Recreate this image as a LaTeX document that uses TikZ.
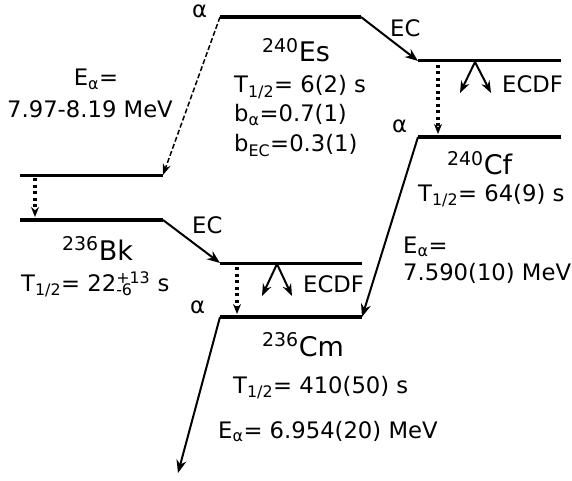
\documentclass[tikz,border=0pt]{standalone}
\usepackage{fontspec}
\setmainfont{DejaVu Sans}
\usetikzlibrary{arrows.meta}
\newcommand{\supsubx}[2]{\rlap{\textsubscript{#2}}\textsuperscript{#1}}
\begin{document}
\begin{tikzpicture}[x=1pt,y=-1pt,
  lbl/.style={inner sep=0pt,font=\fontsize{22.7}{27}\selectfont},
  elem/.style={inner sep=0pt,font=\fontsize{27}{32}\selectfont},
  levelthick/.style={line width=4.6pt},
  levelthin/.style={line width=3pt},
  decay/.style={line width=2pt,-{Stealth[length=13pt,width=10pt]}},
  decaydash/.style={line width=1.5pt,dash pattern=on 5pt off 2.5pt,-{Stealth[length=11pt,width=8pt]}},
  dotarrow/.style={line width=3.2pt,dash pattern=on 3pt off 3.5pt,-{Stealth[length=10pt,width=8pt]}},
  fission/.style={line width=2pt,-{Stealth[length=12pt,width=9pt]}}]
\useasboundingbox (0,0) rectangle (572,481);
% level coordinates
\coordinate (EsL) at (220,17);   \coordinate (EsR) at (361,17);
\coordinate (CfxL) at (418,61);  \coordinate (CfxR) at (561,61);
\coordinate (CfL) at (418,137);  \coordinate (CfR) at (561,137);
\coordinate (BkxL) at (20,175);  \coordinate (BkxR) at (163,175);
\coordinate (BkL) at (20,220);   \coordinate (BkR) at (163,220);
\coordinate (CmxL) at (220,263); \coordinate (CmxR) at (362,263);
\coordinate (CmL) at (220,317);  \coordinate (CmR) at (362,317);
\coordinate (CmEnd) at (178,473);
% dotted arrow ends
\coordinate (d1a) at (438,65);  \coordinate (d1b) at (438,134);
\coordinate (d2a) at (35,178);  \coordinate (d2b) at (35,217);
\coordinate (d3a) at (237,267); \coordinate (d3b) at (237,314);
% ECDF arrows
\coordinate (f1) at (475,62); \coordinate (f1a) at (460,93); \coordinate (f1b) at (491,93);
\coordinate (f2) at (277,264); \coordinate (f2a) at (262,296); \coordinate (f2b) at (292,296);
% levels
\draw[levelthick] (EsL) -- (EsR);
\draw[levelthin] (CfxL) -- (CfxR);
\draw[levelthick] (CfL) -- (CfR);
\draw[levelthin] (BkxL) -- (BkxR);
\draw[levelthick] (BkL) -- (BkR);
\draw[levelthin] (CmxL) -- (CmxR);
\draw[levelthick] (CmL) -- (CmR);
% decays
\draw[decay] (EsR) -- (CfxL);
\draw[decaydash] (EsL) -- (BkxR);
\draw[decay] (CfL) -- (CmR);
\draw[decay] (BkR) -- (CmxL);
\draw[decay] (CmL) -- (CmEnd);
\draw[dotarrow] (d1a) -- (d1b);
\draw[dotarrow] (d2a) -- (d2b);
\draw[dotarrow] (d3a) -- (d3b);
\draw[fission] (f1) -- (f1a);
\draw[fission] (f1) -- (f1b);
\draw[fission] (f2) -- (f2a);
\draw[fission] (f2) -- (f2b);
% labels
\node[lbl,anchor=base west] (aEs) at (192,18) {α};
\node[lbl,anchor=base west] (ecEs) at (390,37) {EC};
\node[elem,anchor=base west] (nEs) at (262,62) {\textsuperscript{240}Es};
\node[lbl,anchor=base west] (tEs) at (234,93) {T\textsubscript{1/2}= 6(2) s};
\node[lbl,anchor=base west] (baEs) at (234,122) {b\textsubscript{α}=0.7(1)};
\node[lbl,anchor=base west] (becEs) at (234,152) {b\textsubscript{EC}=0.3(1)};
\node[lbl,anchor=base] (eaL1) at (96,86) {E\textsubscript{α}=};
\node[lbl,anchor=base] (eaL2) at (90,118) {7.97-8.19 MeV};
\node[lbl,anchor=base west] (aCf) at (392,133) {α};
\node[lbl,anchor=base west] (ecdf1) at (502,93) {ECDF};
\node[elem,anchor=base west] (nCf) at (447,175) {\textsuperscript{240}Cf};
\node[lbl,anchor=base west] (tCf) at (418,201) {T\textsubscript{1/2}= 64(9) s};
\node[lbl,anchor=base west] (eaR1) at (403,253) {E\textsubscript{α}=};
\node[lbl,anchor=base west] (eaR2) at (403,280) {7.590(10) MeV};
\node[lbl,anchor=base west] (ecBk) at (192,233) {EC};
\node[elem,anchor=base west] (nBk) at (62,260) {\textsuperscript{236}Bk};
\node[lbl,anchor=base west] (tBk) at (21,291) {T\textsubscript{1/2}= 22\supsubx{+13}{-6} s};
\node[lbl,anchor=base west] (ecdf2) at (303,292) {ECDF};
\node[lbl,anchor=base west] (aCm) at (190,313) {α};
\node[elem,anchor=base west] (nCm) at (262,356) {\textsuperscript{236}Cm};
\node[lbl,anchor=base west] (tCm) at (233,393) {T\textsubscript{1/2}= 410(50) s};
\node[lbl,anchor=base west] (eaCm) at (218,438) {E\textsubscript{α}= 6.954(20) MeV};
\end{tikzpicture}
\end{document}
